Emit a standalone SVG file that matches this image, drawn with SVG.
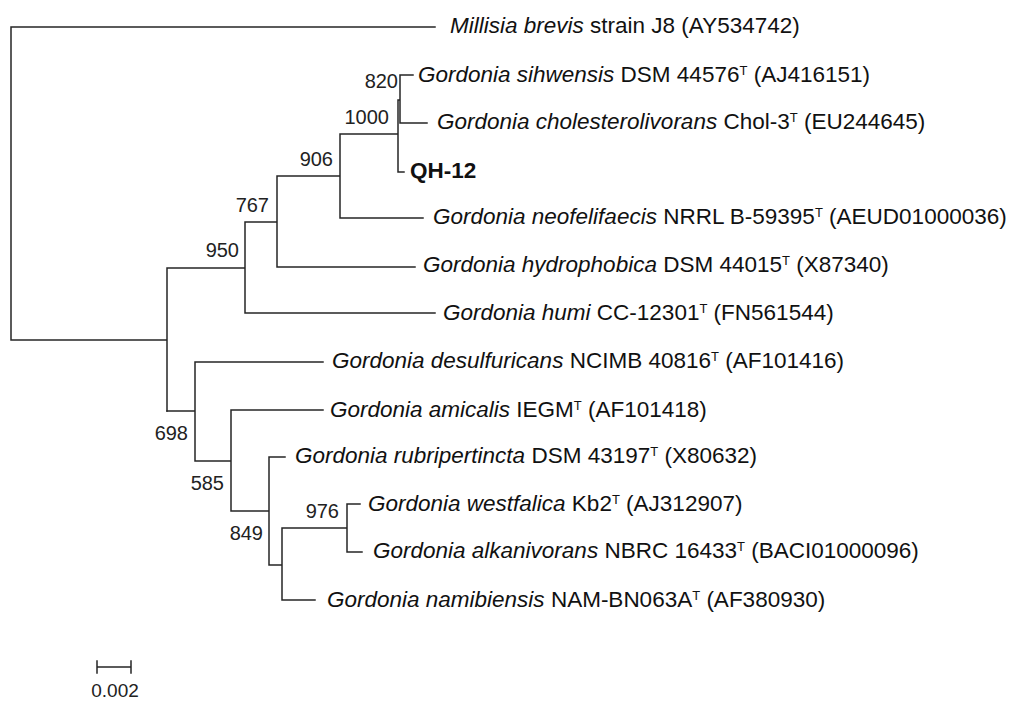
<svg xmlns="http://www.w3.org/2000/svg" width="1024" height="708" viewBox="0 0 1024 708">
<style>
.br{fill:none;stroke:#262626;stroke-width:1.5;stroke-linecap:square}
.lb{font-family:"Liberation Sans",Arial,sans-serif;font-size:22.5px;fill:#111}
.bs{font-family:"Liberation Sans",Arial,sans-serif;font-size:20px;fill:#222;text-anchor:end}
.it{font-style:italic}
.sup{font-size:13px}
.bold{font-weight:bold}
</style>
<rect width="1024" height="708" fill="#fff"/>
<g id="connectors" class="br">
<path d="M11 27H435M11 27V340H167M167 268V411M167 268H245M245 222V313H435M245 222H277M277 176V267H415M277 176H340M340 134V218H423M340 134H398M398 100V172H404M398 100H400M400 75V123H427M400 75H413"/>
<path d="M167 411H195M195 362V461M195 362H323M195 461H231M231 410V511M231 410H323M231 511H269M269 457V565M269 457H285M269 565H282M282 528V600H315M282 528H347M347 504V552H362M347 504H360"/>
<path d="M97 661V673M131 661V673M97 667H131"/>
</g>
<g id="n-millisia"><text class="lb" x="450" y="33"><tspan class="it">Millisia brevis</tspan> strain J8 (AY534742)</text></g>
<g id="n-sihwensis"><text class="lb" x="418" y="82"><tspan class="it">Gordonia sihwensis</tspan> DSM 44576<tspan class="sup" dy="-7">T</tspan><tspan dy="7"> (AJ416151)</tspan></text></g>
<g id="n-cholesterolivorans"><text class="lb" x="437" y="129"><tspan class="it">Gordonia cholesterolivorans</tspan> Chol-3<tspan class="sup" dy="-7">T</tspan><tspan dy="7"> (EU244645)</tspan></text></g>
<g id="n-qh12"><text class="lb bold" x="410" y="178">QH-12</text></g>
<g id="n-neofelifaecis"><text class="lb" x="433" y="224"><tspan class="it">Gordonia neofelifaecis</tspan> NRRL B-59395<tspan class="sup" dy="-7">T</tspan><tspan dy="7"> (AEUD01000036)</tspan></text></g>
<g id="n-hydrophobica"><text class="lb" x="423" y="272"><tspan class="it">Gordonia hydrophobica</tspan> DSM 44015<tspan class="sup" dy="-7">T</tspan><tspan dy="7"> (X87340)</tspan></text></g>
<g id="n-humi"><text class="lb" x="443" y="320"><tspan class="it">Gordonia humi</tspan> CC-12301<tspan class="sup" dy="-7">T</tspan><tspan dy="7"> (FN561544)</tspan></text></g>
<g id="n-desulfuricans"><text class="lb" x="332" y="368"><tspan class="it">Gordonia desulfuricans</tspan> NCIMB 40816<tspan class="sup" dy="-7">T</tspan><tspan dy="7"> (AF101416)</tspan></text></g>
<g id="n-amicalis"><text class="lb" x="330" y="417"><tspan class="it">Gordonia amicalis</tspan> IEGM<tspan class="sup" dy="-7">T</tspan><tspan dy="7"> (AF101418)</tspan></text></g>
<g id="n-rubripertincta"><text class="lb" x="295" y="463"><tspan class="it">Gordonia rubripertincta</tspan> DSM 43197<tspan class="sup" dy="-7">T</tspan><tspan dy="7"> (X80632)</tspan></text></g>
<g id="n-westfalica"><text class="lb" x="368" y="511"><tspan class="it">Gordonia westfalica</tspan> Kb2<tspan class="sup" dy="-7">T</tspan><tspan dy="7"> (AJ312907)</tspan></text></g>
<g id="n-alkanivorans"><text class="lb" x="373" y="558"><tspan class="it">Gordonia alkanivorans</tspan> NBRC 16433<tspan class="sup" dy="-7">T</tspan><tspan dy="7"> (BACI01000096)</tspan></text></g>
<g id="n-namibiensis"><text class="lb" x="327" y="607"><tspan class="it">Gordonia namibiensis</tspan> NAM-BN063A<tspan class="sup" dy="-7">T</tspan><tspan dy="7"> (AF380930)</tspan></text></g>
<g id="bootstrap">
<text class="bs" x="398" y="88">820</text>
<text class="bs" x="389" y="124">1000</text>
<text class="bs" x="333" y="166">906</text>
<text class="bs" x="269" y="212">767</text>
<text class="bs" x="239" y="257">950</text>
<text class="bs" x="188" y="440">698</text>
<text class="bs" x="224" y="490">585</text>
<text class="bs" x="263" y="540">849</text>
<text class="bs" x="339" y="518">976</text>
</g>
<g id="scale"><text class="bs" x="115" y="697" style="text-anchor:middle;font-size:19px">0.002</text></g>
</svg>
